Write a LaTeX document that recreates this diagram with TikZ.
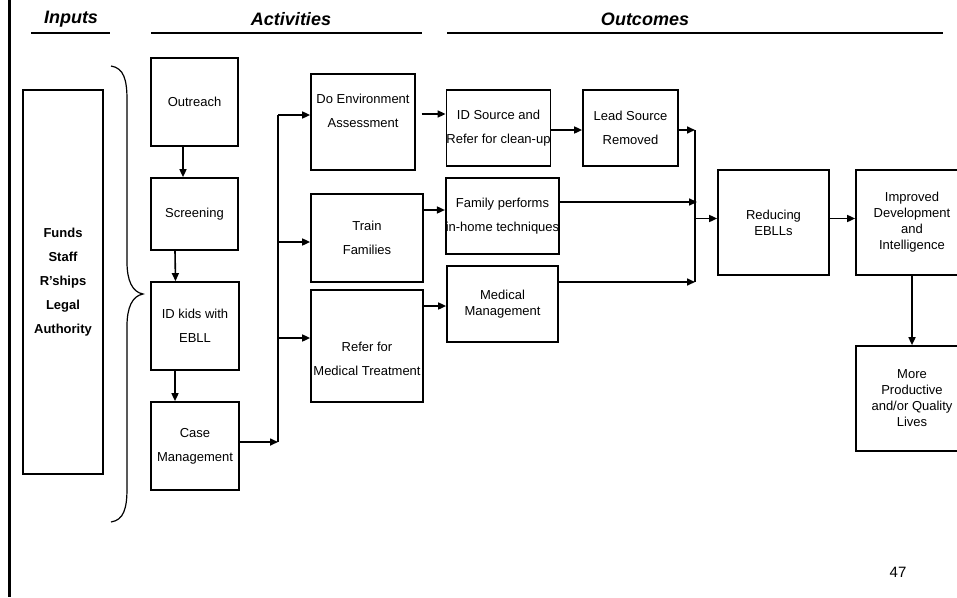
\documentclass[tikz,border=0pt]{standalone}
\usepackage{fontspec}
\setmainfont{Liberation Sans}
\usetikzlibrary{arrows.meta,calc}

\begin{document}
\begin{tikzpicture}[x=1pt,y=-1pt,>=Latex,
  bx/.style={draw,line width=1.7pt,align=center,inner sep=0pt,
    font=\fontsize{13}{24}\selectfont},
  tbx/.style={bx,font=\fontsize{13}{16}\selectfont},
  hd/.style={font=\fontsize{18}{20}\selectfont\bfseries\itshape},
  ul/.style={line width=2pt},
  a/.style={-{Triangle[length=8pt,width=7pt]},line width=1.6pt},
  tr/.style={line width=2.6pt}]
\useasboundingbox (0,0) rectangle (957,597);
\clip (0,0) rectangle (957,597);
\draw[line width=3pt] (9,0)--(9,597);
% headings
\node[hd] (hin) at (71,19) {Inputs};
\node[hd] (hact) at (291,19) {Activities};
\node[hd] (hout) at (645,19) {Outcomes};
\draw[ul] (31,33)--(110,33); \draw[ul] (151,33)--(422,33); \draw[ul] (447,33)--(943,33);
% inputs
\node[bx,font=\fontsize{13}{24}\selectfont\bfseries,minimum width=80,minimum height=384] (inp) at (63,282)
  {Funds\\Staff\\R’ships\\Legal\\Authority};
\draw[line width=1.2pt] (111,66) .. controls (124,68) and (127,80) .. (127,100) -- (127,262)
  .. controls (127,280) and (132,292) .. (143,294) .. controls (132,296) and (127,308) .. (127,326)
  -- (127,488) .. controls (127,508) and (124,520) .. (111,522);
% activities
\node[bx,minimum width=87,minimum height=88] (outr) at (194.5,102) {Outreach};
\node[bx,minimum width=87,minimum height=72] (scr) at (194.5,214) {Screening};
\node[bx,minimum width=88,minimum height=88] (idk) at (195,326) {ID kids with\\EBLL};
\node[bx,minimum width=88,minimum height=88] (cm) at (195,446) {Case\\Management};
\node[bx,minimum width=104,minimum height=96] (env) at (363,122)
  {Do Environment\\Assessment\rule[-22pt]{0pt}{22pt}};
\node[bx,minimum width=112,minimum height=88] (trn) at (367,238) {Train\\Families};
\node[bx,minimum width=112,minimum height=112] (ref) at (367,346)
  {\rule{0pt}{35pt}Refer for\\Medical Treatment};
% outcomes
\node[bx,minimum width=103,minimum height=76] (src) at (498.5,128) {ID Source and\\Refer for clean-up};
\node[bx,minimum width=95,minimum height=76] (lead) at (630.5,128) {Lead Source\\Removed};
\node[bx,minimum width=111,minimum height=76] (fam) at (502.5,216) {Family performs\\in-home techniques};
\node[tbx,minimum width=111,minimum height=76] (med) at (502.5,304) {Medical\\Management};
\node[tbx,minimum width=111,minimum height=105] (red) at (773.5,222.5) {Reducing\\EBLLs};
\node[tbx,minimum width=112,minimum height=105] (imp) at (912,222.5) {Improved\\Development\\and\\Intelligence};
\node[tbx,minimum width=112,minimum height=105] (more) at (912,398.5) {More\\Productive\\and/or Quality\\Lives};
\node[font=\fontsize{15}{16}\selectfont] (pg) at (898,572) {47};
% connectors
\coordinate (tk) at (278,115); \coordinate (tkb) at (278,442);
\coordinate (jn) at (695,130); \coordinate (jnb) at (695,282);
\draw[a] ([xshift=-11.5pt]outr.south)--([xshift=-11.5pt]scr.north);
\draw[a] ([xshift=-19.5pt]scr.south)--([xshift=-19.5pt]idk.north);
\draw[a] ([xshift=-20pt]idk.south)--([xshift=-20pt]cm.north);
\draw[a] ([yshift=4pt]cm.east)--(tkb);
\draw[tr] (tkb)--(tk);
\draw[a] (tk)--(tk -| env.west);
\draw[a] ([yshift=-4pt]trn.west) ++(-33,0)--([yshift=-4pt]trn.west);
\draw[a] ([yshift=8pt]ref.west) ++(-33,0)--([yshift=8pt]ref.west);
\draw[a] ([yshift=14pt]src.west) ++(-24,0)--([yshift=14pt]src.west);
\draw[a] ([yshift=28pt]trn.east)--([yshift=28pt]trn.east -| fam.west);
\draw[a] ([yshift=40pt]ref.east)--([yshift=40pt]ref.east -| med.west);
\draw[a] ([yshift=-2pt]src.east)--([yshift=-2pt]lead.west);
\draw[a] ([yshift=-2pt]lead.east)--(jn);
\draw[tr] (jn)--(jnb);
\draw[a] ([yshift=14pt]fam.east)--++(137,0);
\draw[a] ([yshift=22pt]med.east)--(jnb);
\draw[a] ([yshift=4pt]red.west) ++(-23,0)--([yshift=4pt]red.west);
\draw[a] ([yshift=4pt]red.east)--([yshift=4pt]imp.west);
\draw[a] (imp.south)--(more.north);
\end{tikzpicture}
\end{document}
